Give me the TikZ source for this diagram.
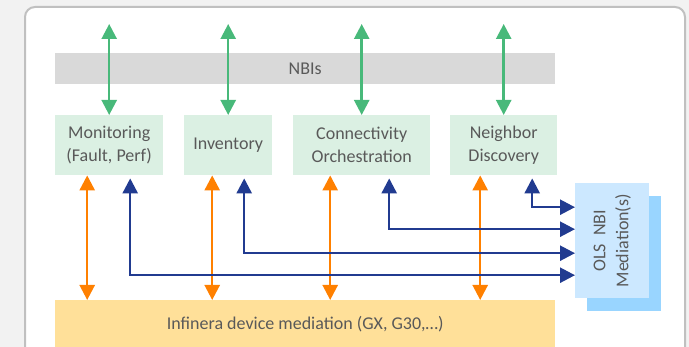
\documentclass[tikz,border=0pt]{standalone}
\usepackage{fontspec}
\setmainfont{Carlito}
\usetikzlibrary{arrows.meta}

\definecolor{pagegray}{HTML}{F2F2F2}
\definecolor{framegray}{HTML}{C0C0C0}
\definecolor{txtgray}{HTML}{595959}
\definecolor{nbigray}{HTML}{D9D9D9}
\definecolor{appgreen}{HTML}{DBF0E3}
\definecolor{devyellow}{HTML}{FFE099}
\definecolor{olslight}{HTML}{CCE8FF}
\definecolor{olsdark}{HTML}{99D5FF}
\definecolor{nbicol}{HTML}{48B97A}
\definecolor{devcol}{HTML}{FF8000}
\definecolor{olscol}{HTML}{213B90}

\tikzset{
  block/.style={anchor=north west, inner sep=0pt, text=txtgray, align=center},
  appbox/.style={block, fill=appgreen, minimum height=60pt},
  nbiarrow/.style={<->, nbicol, line width=2.5pt},
  devarrow/.style={<->, devcol, line width=2.5pt},
  olsarrow/.style={<->, olscol, line width=2.5pt, shorten <=3pt}
}

\begin{document}
\begin{tikzpicture}[x=1pt,y=-1pt,font=\fontsize{18}{23}\selectfont,>={Triangle[length=15pt,width=15pt]}]
  \useasboundingbox (0,0) rectangle (689,347);
  \clip (0,0) rectangle (689,347);
  \fill[pagegray] (0,0) rectangle (689,347);
  \draw[framegray, line width=2pt, fill=white, rounded corners=10pt] (25,7) rectangle (685,380);

  \node[block, fill=nbigray, minimum width=500pt, minimum height=31pt] (nbi) at (55,53) {NBIs};
  \node[appbox, minimum width=108pt] (mon) at (55,115) {Monitoring\\(Fault, Perf)};
  \node[appbox, minimum width=88pt] (inv) at (184,115) {Inventory};
  \node[appbox, minimum width=137pt] (con) at (293,115) {Connectivity\\Orchestration};
  \node[appbox, minimum width=107pt] (nei) at (450,115) {Neighbor\\Discovery};
  \node[block, fill=devyellow, minimum width=500pt, minimum height=48pt] (dev) at (55,300) {Infinera device mediation (GX, G30,…)};
  \node[block, fill=olsdark, minimum width=74pt, minimum height=115pt] (olsback) at (587,196) {};
  \node[block, fill=olslight, minimum width=74pt, minimum height=115pt] (ols) at (575,183) {};
  \node[rotate=90, text=txtgray, align=center, inner sep=0pt] (olstext) at (ols.center) {OLS\ \ NBI\\Mediation(s)};

  \foreach \n in {mon,inv,con,nei}
    \draw[nbiarrow] ([yshift=91pt]\n.north) -- (\n.north);
  \foreach \n/\dx in {mon/-22,inv/-16,con/-31.5,nei/-23.5}
    \draw[devarrow] ([xshift=\dx pt]\n.south) -- ([xshift=\dx pt]\n.south |- dev.north);
  \foreach \n/\dx/\dy in {mon/21/-34.5,inv/16/-12.5,con/27.5/11.5,nei/28.5/33.5}
    \draw[olsarrow] ([xshift=\dx pt]\n.south) |- ([yshift=\dy pt]ols.west);
\end{tikzpicture}
\end{document}
